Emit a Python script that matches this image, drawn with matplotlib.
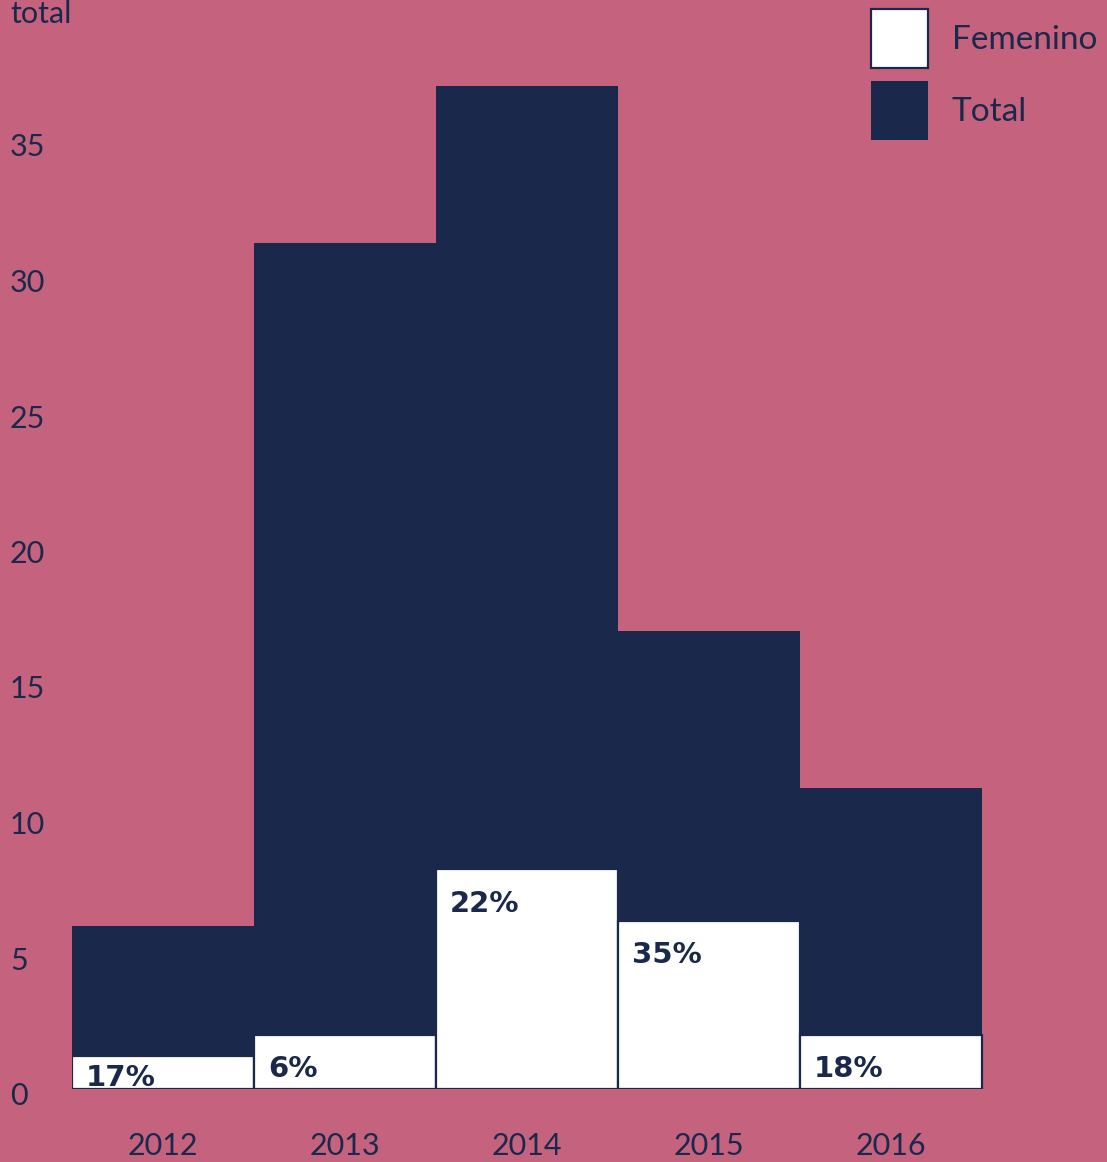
import matplotlib.pyplot as plt
from matplotlib.transforms import ScaledTranslation

years = ['2012', '2013', '2014', '2015', '2016']
total = [6, 31.2, 37, 16.9, 11.1]
femenino = [1.2, 2.0, 8.1, 6.2, 2.0]
pct_labels = ['17%', '6%', '22%', '35%', '18%']
y_ticks = [0, 5, 10, 15, 20, 25, 30, 35]

pink = '#C5637E'
navy = '#1A294B'

W, H = 1107, 1162
fig = plt.figure(figsize=(W / 100, H / 100), dpi=100, facecolor=pink)
ax = fig.add_axes([72 / W, 73 / H, (W - 72) / W, 1089 / H])
ax.set_facecolor(pink)

x = list(range(len(years)))
ax.bar(x, total, width=1.0, color=navy, label='Total', zorder=2)
ax.bar(x, femenino, width=1.0, color='white', edgecolor=navy,
       linewidth=1.6, label='Femenino', zorder=3)

for xi, f, lab in zip(x, femenino, pct_labels):
    ytop = max(f - 0.75, 0.92)
    ax.annotate(lab, (xi - 0.5, ytop), xytext=(10, 0), textcoords='offset points',
                ha='left', va='top', fontsize=21, fontweight='heavy',
                color=navy, family='DejaVu Sans', zorder=4)

ax.set_xlim(-0.5, -0.5 + (W - 72) / 182)
ax.set_ylim(0, 1089 / 27.1)
for s in ax.spines.values():
    s.set_visible(False)

font = 'Lato'
ax.set_xticks(x)
ax.set_xticklabels(years, fontsize=22, color=navy, family=font)
ax.set_yticks(y_ticks)
ax.set_yticklabels([str(t) for t in y_ticks], fontsize=22, color=navy,
                   family=font, ha='left', va='center')
ax.tick_params(axis='y', length=0, pad=44.6)
ax.tick_params(axis='x', length=0, pad=31)
shift = ScaledTranslation(0, -7 / 100, fig.dpi_scale_trans)
for lbl in ax.get_yticklabels():
    lbl.set_transform(lbl.get_transform() + shift)

fig.text(10 / W, 1 - 23 / H, 'total', fontsize=22, color=navy, family=font,
         ha='left', va='baseline')

handles, labels = ax.get_legend_handles_labels()
leg = ax.legend(handles[::-1], labels[::-1], loc='upper left',
                bbox_to_anchor=(871 / W, 1 - 9 / H), bbox_transform=fig.transFigure,
                frameon=False, borderpad=0, borderaxespad=0,
                handlelength=1.71, handleheight=2.33, labelspacing=0.4,
                handletextpad=0.72,
                prop={'family': font, 'size': 24})
for t in leg.get_texts():
    t.set_color(navy)

fig.savefig('out.png', dpi=100, facecolor=pink)
